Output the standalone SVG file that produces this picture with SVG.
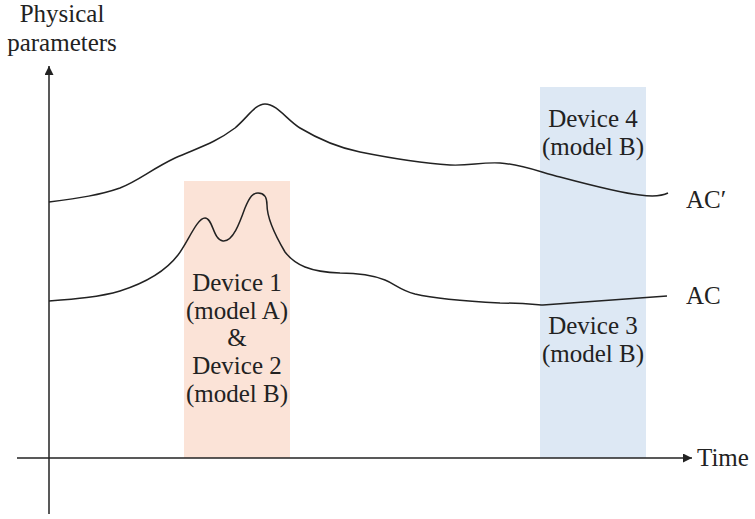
<svg xmlns="http://www.w3.org/2000/svg" width="755" height="519" viewBox="0 0 755 519">
<defs>
<style>
text{font-family:"Liberation Serif","Times New Roman",serif;font-size:25px;fill:#222}
.c{text-anchor:middle}
.ax{stroke:#222;stroke-width:1.5;fill:none}
.crv{stroke:#222;stroke-width:1.5;fill:none}
</style>
<marker id="ah" viewBox="0 0 10 10" refX="10" refY="5" markerWidth="9" markerHeight="9" markerUnits="userSpaceOnUse" orient="auto">
<path d="M0,0 L10,5 L0,10 z" fill="#222"/>
</marker>
</defs>
<rect width="755" height="519" fill="#fff"/>
<g id="band1">
<rect x="184" y="181" width="106" height="277" fill="#fbe3d7"/>
</g>
<g id="band2">
<rect x="540" y="87" width="106" height="371" fill="#dde8f4"/>
</g>
<g id="connectors">
<line class="ax" x1="49" y1="514" x2="49" y2="66" marker-end="url(#ah)"/>
<line class="ax" x1="17" y1="458" x2="692" y2="458" marker-end="url(#ah)"/>
<path id="acp" class="crv" d="M49,202 C80,198 100,195 120,188 C140,180 150,170 175,158 C200,147 215,143 235,128 C248,117 255,104 265,104 C277,104 287,120 300,128 C320,140 340,148 360,152 C400,160 420,163 450,165 C470,166 480,162 500,163 C520,164 540,172 560,177 C590,185 620,193 640,195 C655,197 662,196 668,193"/>
<path id="ac" class="crv" d="M49,301 C75,299 100,297 120,291 C145,283 165,272 178,255 C188,242 197,218 205,218 C213,218 213,240 223,241 C233,242 240,222 245,208 C250,196 253,193 258,193 C265,193 267,198 267,205 C267,215 272,230 285,252 C295,265 310,272 340,273 C360,273 375,276 385,280 C395,284 400,290 415,294 C440,300 480,302 500,303 C520,303 530,304 543,305 C580,302 630,299 667,296"/>
</g>
<g id="ylabel">
<text class="c" x="62" y="22">Physical</text>
<text class="c" x="62" y="51">parameters</text>
</g>
<g id="xlabel"><text x="697" y="466">Time</text></g>
<g id="lab-acp"><text x="686" y="208">AC′</text></g>
<g id="lab-ac"><text x="686" y="304">AC</text></g>
<g id="dev12">
<text class="c" x="237" y="291">Device 1</text>
<text class="c" x="237" y="319">(model A)</text>
<text class="c" x="237" y="346">&amp;</text>
<text class="c" x="237" y="374">Device 2</text>
<text class="c" x="237" y="402">(model B)</text>
</g>
<g id="dev4">
<text class="c" x="593" y="127">Device 4</text>
<text class="c" x="593" y="155">(model B)</text>
</g>
<g id="dev3">
<text class="c" x="593" y="334">Device 3</text>
<text class="c" x="593" y="362">(model B)</text>
</g>
</svg>
